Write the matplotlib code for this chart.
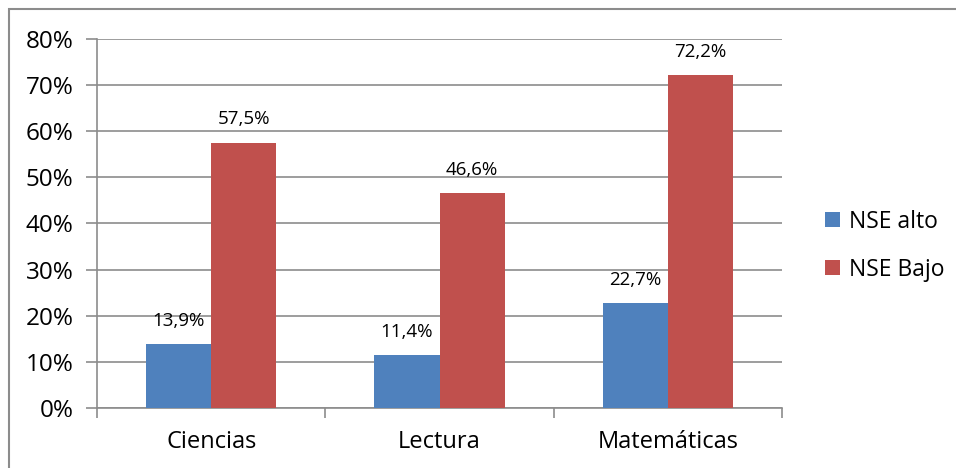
import matplotlib.pyplot as plt
import numpy as np
from matplotlib.patches import Rectangle

# datos
materias = ['Ciencias', 'Lectura', 'Matemáticas']
nse_alto = [13.9, 11.4, 22.7]
nse_bajo = [57.5, 46.6, 72.2]
series = ['NSE alto', 'NSE Bajo']

plt.rcParams['font.family'] = ['Open Sans', 'DejaVu Sans']

fig = plt.figure(figsize=(9.56, 4.68), dpi=100)
ax = fig.add_axes([0.1015, 0.128, 0.7165, 0.789])

# marco exterior del gráfico (los bordes derecho e inferior quedan fuera de la imagen)
fig.patches.append(Rectangle((9 / 956, -0.05), 1.0, 1.05 - 9 / 468,
                             transform=fig.transFigure, fill=False,
                             edgecolor='#8c8c8c', linewidth=1.5))

x = np.arange(len(materias))
w = 0.285
b1 = ax.bar(x - w / 2, nse_alto, w, color='#4F81BD', label=series[0], zorder=3)
b2 = ax.bar(x + w / 2, nse_bajo, w, color='#C0504D', label=series[1], zorder=3)

for bars in (b1, b2):
    for r in bars:
        h = r.get_height()
        ax.text(r.get_x() + r.get_width() / 2, h + 3.1, f'{h:.1f}%'.replace('.', ','),
                ha='center', va='bottom', fontsize=13.5, zorder=4)

ax.set_ylim(0, 80)
ax.set_yticks(range(0, 81, 10))
ax.set_yticklabels([f'{v}%' for v in range(0, 81, 10)], fontsize=17.5)
ax.set_xlim(-0.5, 2.5)
ax.set_xticks(x)
ax.set_xticklabels(materias, fontsize=17)
ax.set_xticks([-0.5, 0.5, 1.5, 2.5], minor=True)
ax.tick_params(axis='x', which='major', length=0, pad=16)
ax.tick_params(axis='x', which='minor', length=7, color='#8c8c8c', width=1.2)
ax.tick_params(axis='y', length=8, color='#8c8c8c', width=1.2, pad=9)

ax.grid(axis='y', color='#8c8c8c', linewidth=1.2, zorder=0)
for s in ['top', 'right']:
    ax.spines[s].set_visible(False)
for s in ['left', 'bottom']:
    ax.spines[s].set_color('#8c8c8c')
    ax.spines[s].set_linewidth(1.2)

ax.legend(loc='center left', bbox_to_anchor=(1.063, 0.44), frameon=False,
          fontsize=16.5, handlelength=0.65, handleheight=0.65, labelspacing=1.05,
          handletextpad=0.4, borderpad=0, borderaxespad=0)

plt.savefig('out.png', dpi=100)
